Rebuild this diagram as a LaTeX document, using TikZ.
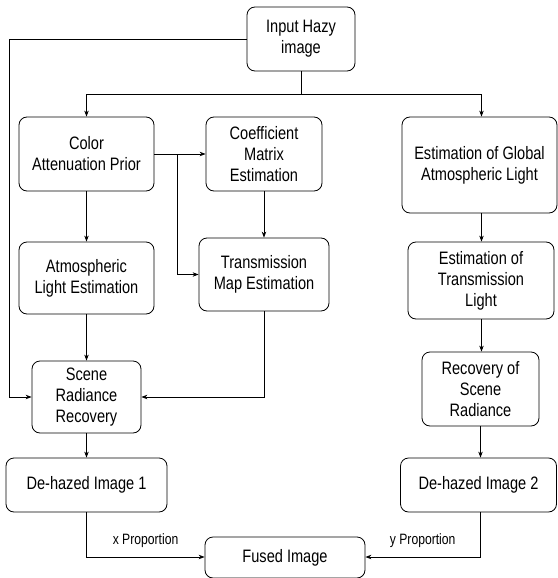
\documentclass[tikz,border=0pt]{standalone}
\usepackage{fontspec}
\setmainfont[FakeStretch=0.81]{Liberation Sans}
\usepackage{tikz}
\usetikzlibrary{arrows.meta}

\tikzset{
    stage/.style = {draw, rounded corners=8pt, line width=0.8pt, align=center,
                    font=\fontsize{18}{21}\selectfont, inner sep=2pt},
    link/.style  = {line width=0.8pt, -{Stealth[length=6pt,width=4.5pt]}},
    wire/.style  = {line width=0.8pt},
    share/.style = {font=\fontsize{15}{17}\selectfont}
}

\begin{document}
\begin{tikzpicture}[x=1pt, y=-1pt]
                \useasboundingbox (0,0) rectangle (557,578);

                % Input
                \node[stage, minimum width=108pt, minimum height=64pt] (input) at (301,39) {Input Hazy\\image};

                % Left branch (colour attenuation prior)
                \node[stage, minimum width=135pt, minimum height=74pt] (cap) at (86.5,154) {Color\\Attenuation Prior};
                \node[stage, minimum width=116pt, minimum height=74pt] (coef) at (264,154) {Coefficient\\Matrix\\Estimation};
                \node[stage, minimum width=135pt, minimum height=72pt] (atm) at (86.5,278) {Atmospheric\\Light Estimation};
                \node[stage, minimum width=130pt, minimum height=73pt] (tmap) at (264,274.5) {Transmission\\Map Estimation};
                \node[stage, minimum width=109pt, minimum height=72pt] (srr) at (86.5,397) {Scene\\Radiance\\Recovery};
                \node[stage, minimum width=161pt, minimum height=54pt] (dh1) at (86.5,485) {De-hazed Image 1};

                % Right branch (dark channel)
                \node[stage, minimum width=155pt, minimum height=96pt] (glob) at (479.5,165) {Estimation of Global\\Atmospheric Light};
                \node[stage, minimum width=146pt, minimum height=77pt] (etl) at (481,280.5) {Estimation of\\Transmission\\Light};
                \node[stage, minimum width=117pt, minimum height=74pt] (rsr) at (480.5,389) {Recovery of\\Scene\\Radiance};
                \node[stage, minimum width=156pt, minimum height=54pt] (dh2) at (478.5,485) {De-hazed Image 2};

                % Output
                \node[stage, minimum width=160pt, minimum height=41pt] (fused) at (285,557.5) {Fused Image};

                % Helper points
                \coordinate (split) at (301,94);
                \coordinate (lft) at (9,39);
                \coordinate (br) at (177,154);

                % From the input
                \draw[wire] (input.south) -- (split);
                \draw[link] (split) -| (cap.north);
                \draw[link] (split) -| ([xshift=2pt]glob.north);
                \draw[link] (input.west) -- (lft) |- (srr.west);

                % Left branch
                \draw[link] (cap.east) -- (coef.west);
                \draw[link] (br) |- (tmap.west);
                \draw[link] (coef.south) -- (coef.south |- tmap.north);
                \draw[link] (cap.south) -- (cap.south |- atm.north);
                \draw[link] (atm.south) -- (atm.south |- srr.north);
                \draw[link] (tmap.south) |- (srr.east);
                \draw[link] (srr.south) -- (srr.south |- dh1.north);

                % Right branch
                \draw[link] ([xshift=2pt]glob.south) -- ([xshift=2pt]glob.south |- etl.north);
                \draw[link] ([xshift=0.5pt]etl.south) -- ([xshift=0.5pt]etl.south |- rsr.north);
                \draw[link] (rsr.south) -- (rsr.south |- dh2.north);

                % Fusion
                \draw[link] (dh1.south) |- node[pos=0.75, above=6pt, share] {x Proportion} ([yshift=0.5pt]fused.west);
                \draw[link] ([xshift=1.5pt]dh2.south) |- node[pos=0.75, above=6pt, share] {y Proportion} ([yshift=0.5pt]fused.east);
            \end{tikzpicture}
\end{document}
